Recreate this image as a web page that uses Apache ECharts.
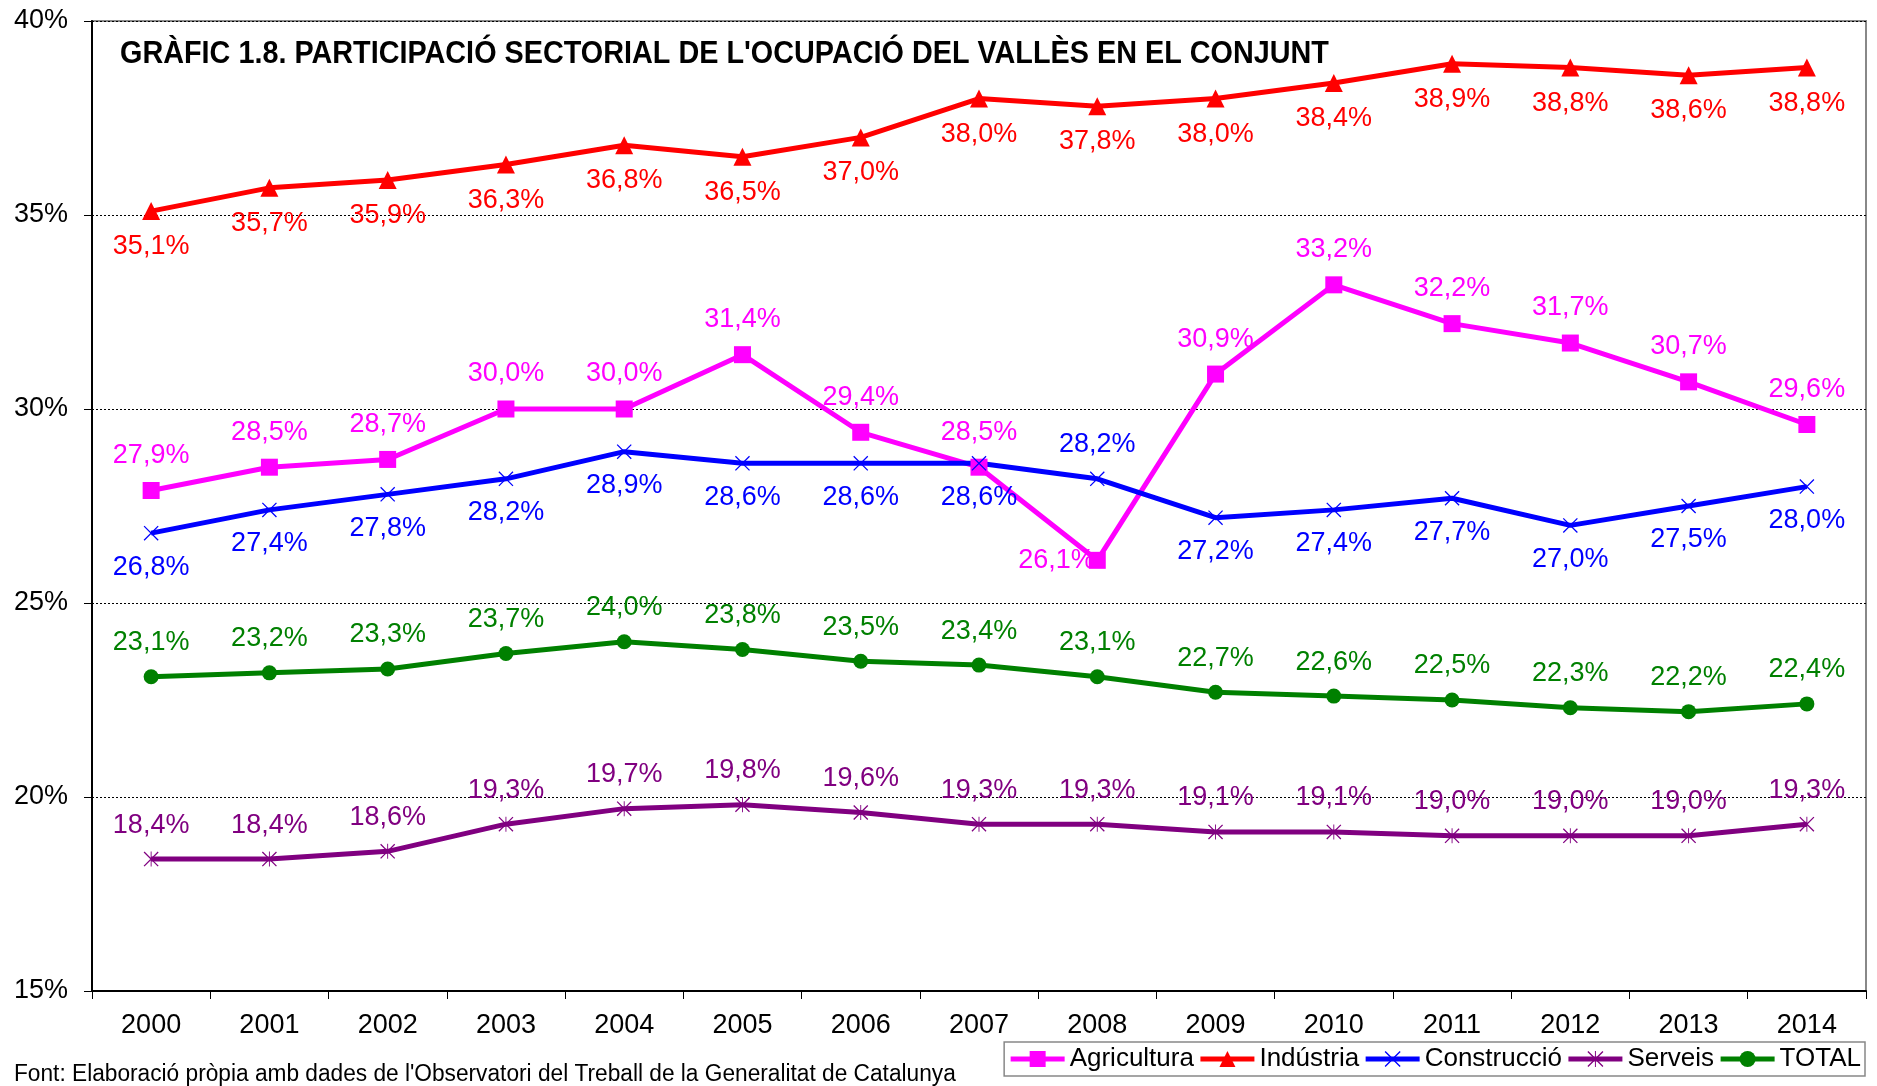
<!DOCTYPE html>
<html>
<head>
<meta charset="utf-8">
<script src="https://cdn.jsdelivr.net/npm/echarts@6/dist/echarts.min.js"></script>
<style>html,body{margin:0;padding:0;background:#fff}#c{width:1877px;height:1086px}</style>
</head>
<body>
<div id="c"></div>
<script>
var years = ['2000','2001','2002','2003','2004','2005','2006','2007','2008','2009','2010','2011','2012','2013','2014'];
var agricultura = [27.9,28.5,28.7,30.0,30.0,31.4,29.4,28.5,26.1,30.9,33.2,32.2,31.7,30.7,29.6];
var industria = [35.1,35.7,35.9,36.3,36.8,36.5,37.0,38.0,37.8,38.0,38.4,38.9,38.8,38.6,38.8];
var construccio = [26.8,27.4,27.8,28.2,28.9,28.6,28.6,28.6,28.2,27.2,27.4,27.7,27.0,27.5,28.0];
var serveis = [18.4,18.4,18.6,19.3,19.7,19.8,19.6,19.3,19.3,19.1,19.1,19.0,19.0,19.0,19.3];
var total = [23.1,23.2,23.3,23.7,24.0,23.8,23.5,23.4,23.1,22.7,22.6,22.5,22.3,22.2,22.4];
var yTicks = {min: 15, max: 40, interval: 5};

var FONT = 'Liberation Sans, Arial, sans-serif';
var X_PATH = 'path://M0,6 L6,0 L100,94 L94,100 Z M94,0 L100,6 L6,100 L0,94 Z';
var AST_PATH = 'path://M0,6 L6,0 L100,94 L94,100 Z M94,0 L100,6 L6,100 L0,94 Z M47,0 L53,0 L53,100 L47,100 Z';

function fmt(v){ return v.toFixed(1).replace('.', ',') + '%'; }

function mkData(arr, overrides){
  return arr.map(function(v, i){
    var o = {value: v};
    if (overrides && overrides[i]) o.label = overrides[i];
    return o;
  });
}

function series(name, arr, color, symbol, size, pos, overrides){
  return {
    name: name, type: 'line', data: mkData(arr, overrides),
    symbol: symbol, symbolSize: size,
    lineStyle: {color: color, width: 5},
    itemStyle: {color: color},
    label: {show: true, position: pos, distance: 13, color: color, fontSize: 27, fontFamily: FONT,
      formatter: function(p){ return fmt(p.value); }},
    animation: false
  };
}

var chart = echarts.init(document.getElementById('c'));
chart.setOption({
  backgroundColor: '#fff',
  animation: false,
  grid: {left: 92, right: 11, top: 21, bottom: 95, show: true, borderColor: '#888', borderWidth: 2, backgroundColor: 'transparent'},
  xAxis: {
    type: 'category', data: years, boundaryGap: true,
    axisLine: {lineStyle: {color: '#000', width: 2}},
    axisTick: {show: true, length: 8, lineStyle: {color: '#000', width: 1}},
    axisLabel: {color: '#000', fontSize: 27, fontFamily: FONT, margin: 21}
  },
  yAxis: {
    type: 'value', min: yTicks.min, max: yTicks.max, interval: yTicks.interval,
    axisLine: {show: true, lineStyle: {color: '#000', width: 2}},
    axisTick: {show: true, length: 8, lineStyle: {color: '#000', width: 1}},
    axisLabel: {color: '#000', fontSize: 27, fontFamily: FONT, margin: 24, formatter: '{value}%'},
    splitLine: {show: true, lineStyle: {color: '#000', width: 1, type: [2, 2]}}
  },
  legend: {
    right: 12, top: 1042, orient: 'horizontal',
    itemWidth: 54, itemHeight: 20, itemGap: 4,
    padding: [4, 4], borderColor: '#888', borderWidth: 1.5,
    lineStyle: {width: 5},
    textStyle: {color: '#000', fontSize: 26, fontFamily: FONT},
    data: ['Agricultura','Indústria','Construcció','Serveis','TOTAL']
  },
  graphic: [
    {type: 'text', x: 120, y: 38, scaleY: 1.1, style: {text: "GRÀFIC 1.8. PARTICIPACIÓ SECTORIAL DE L'OCUPACIÓ DEL VALLÈS EN EL CONJUNT", font: 'bold 28.8px ' + FONT, fill: '#000'}},
    {type: 'text', x: 14, y: 1062, scaleY: 1.08, style: {text: "Font: Elaboració pròpia amb dades de l'Observatori del Treball de la Generalitat de Catalunya", font: '22.7px ' + FONT, fill: '#000'}}
  ],
  series: [
    series('Agricultura', agricultura, '#FF00FF', 'rect', 17, 'top', {8: {position: 'left', distance: -6}}),
    series('Indústria', industria, '#FF0000', 'triangle', 18, 'bottom'),
    series('Construcció', construccio, '#0000FF', X_PATH, 15, 'bottom', {8: {position: 'top'}}),
    series('Serveis', serveis, '#800080', AST_PATH, 15, 'top'),
    series('TOTAL', total, '#008000', 'circle', 15, 'top')
  ]
});
</script>
</body>
</html>
